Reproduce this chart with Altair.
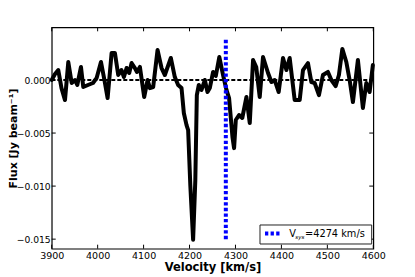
import altair as alt
import pandas as pd

# Spectrum (velocity in km/s, flux in Jy/beam)
velocity = [3900.0, 3907.2, 3914.3, 3921.3, 3928.9, 3936.1, 3943.5, 3950.7, 3955.7, 3963.7,
            3968.7, 3978.9, 3989.8, 3997.8, 4007.2, 4014.8, 4021.7, 4030.4, 4037.6, 4044.8,
            4051.7, 4057.2, 4063.0, 4068.7, 4073.9, 4081.1, 4085.4, 4092.0, 4101.3, 4108.7,
            4113.7, 4120.9, 4130.4, 4139.1, 4146.3, 4159.3, 4168.0, 4175.2, 4182.6, 4187.6,
            4193.5, 4197.0, 4201.7, 4207.8, 4212.6, 4215.9, 4220.2, 4226.1, 4233.3, 4239.1,
            4244.1, 4251.3, 4257.2, 4264.8, 4273.0, 4280.4, 4286.1, 4293.5, 4297.0, 4300.7,
            4307.8, 4314.8, 4323.9, 4331.1, 4338.3, 4345.2, 4352.8, 4360.0, 4370.9, 4378.3,
            4385.4, 4394.1, 4403.5, 4410.9, 4418.0, 4428.9, 4439.8, 4447.0, 4457.8, 4465.2,
            4472.4, 4481.7, 4490.4, 4501.3, 4508.7, 4518.0, 4525.2, 4532.6, 4541.3, 4548.5,
            4555.7, 4566.5, 4577.4, 4584.8, 4592.0, 4599.1]
flux = [0.0, 0.00057, 0.00094, -0.00076, -0.00189, 0.0017, -0.00028, 0.0, -0.00047, 0.00123,
        -0.00066, -0.00047, -0.00028, 0.00019, 0.0017, 0.0, -0.0017, 0.00255, 0.00255, 0.00047,
        0.00094, 0.00028, 0.00113, 0.00066, 0.0016, 0.00113, 0.00076, 0.00123, -0.0016, 0.0,
        -0.00076, -0.00066, 0.00283, 0.00113, 0.00047, 0.00208, 0.00028, -0.00047, -0.00076, -0.00311,
        -0.00425, -0.00472, -0.00991, -0.01505, -0.00943, -0.00142, -0.00047, -0.00094, 0.0, -0.00113,
        -0.00076, 0.00076, 0.00038, 0.00217, 0.00047, -0.00094, -0.0017, -0.00538, -0.00642, -0.00377,
        -0.0033, -0.00358, -0.0016, -0.00406, 0.00189, 0.00123, -0.0016, 0.00217, 0.00066, -0.00019,
        0.0, -0.00113, 0.00208, 0.00094, 0.00208, -0.00189, -0.00189, 0.00094, 0.0016, -0.00019,
        -0.00028, -0.00142, 0.00047, 0.00076, 0.0, -0.00057, 0.00047, 0.00293, 0.0017, 0.0,
        -0.00208, 0.00189, -0.00264, -0.00028, -0.00113, 0.00142]

vsys_x = [4279]
vsys_y = [-0.0150]
vsys_y2 = [0.0040]

x_ticks = [3900, 4000, 4100, 4200, 4300, 4400, 4500, 4600]
y_ticks = [0.0, -0.005, -0.010, -0.015]

x_domain = [3900, 4600]
y_domain = [-0.0159, 0.00497]

W, H = 321.6, 221.4
FONT = "DejaVu Sans"

spec = pd.DataFrame({"v": velocity, "f": flux})
vsys = pd.DataFrame({"v": vsys_x, "y1": vsys_y, "y2": vsys_y2})
zero = pd.DataFrame({"f": [0.0]})
xt = pd.DataFrame({"v": x_ticks})
yt = pd.DataFrame({"f": y_ticks})

xscale = alt.Scale(domain=x_domain, nice=False, zero=False)
yscale = alt.Scale(domain=y_domain, nice=False, zero=False)

xaxis = alt.Axis(values=x_ticks, format="d", ticks=False, domain=False, grid=False,
                 labelFont=FONT, labelFontSize=9.5, labelColor="black", labelPadding=2,
                 title="Velocity [km/s]", titleFont=FONT, titleFontSize=11.5,
                 titleFontWeight="bold", titleColor="black",
                 titleX=W / 2, titleY=21.8, titleAlign="center", titleBaseline="alphabetic",
                 labelFlush=False)
yaxis = alt.Axis(values=y_ticks, format=".3f", ticks=False, domain=False, grid=False,
                 labelFont=FONT, labelFontSize=9.2, labelColor="black", labelPadding=1.5,
                 title="Flux [Jy beam⁻¹]", titleFont=FONT, titleFontSize=11,
                 titleFontWeight="bold", titleColor="black",
                 titleX=-38.0, titleY=H / 2, titleAngle=270, titleAlign="center",
                 titleBaseline="middle",
                 labelFlush=False)

line = alt.Chart(spec).mark_line(color="black", strokeWidth=4, strokeJoin="round",
                                 strokeCap="round").encode(
    x=alt.X("v:Q", scale=xscale, axis=xaxis),
    y=alt.Y("f:Q", scale=yscale, axis=yaxis),
    order="v:Q",
)

zline = alt.Chart(zero).mark_rule(color="black", strokeWidth=2, strokeDash=[4, 2]).encode(
    y=alt.Y("f:Q", scale=yscale)
)

vline = alt.Chart(vsys).mark_rule(color="#0000ff", strokeWidth=4, strokeDash=[3.3, 2.3]).encode(
    x=alt.X("v:Q", scale=xscale),
    y=alt.Y("y1:Q", scale=yscale),
    y2="y2:Q",
)

tick_style = dict(color="black", strokeWidth=1)
top_ticks = alt.Chart(xt).mark_rule(**tick_style).encode(
    x=alt.X("v:Q", scale=xscale), y=alt.value(0), y2=alt.value(4))
bot_ticks = alt.Chart(xt).mark_rule(**tick_style).encode(
    x=alt.X("v:Q", scale=xscale), y=alt.value(H), y2=alt.value(H - 4))
left_ticks = alt.Chart(yt).mark_rule(**tick_style).encode(
    y=alt.Y("f:Q", scale=yscale), x=alt.value(0), x2=alt.value(4))
right_ticks = alt.Chart(yt).mark_rule(**tick_style).encode(
    y=alt.Y("f:Q", scale=yscale), x=alt.value(W - 4), x2=alt.value(W))

# legend
leg_df = pd.DataFrame({"k": [0]})
leg_box = alt.Chart(leg_df).mark_rect(fill="white", stroke="#222222", strokeWidth=1).encode(
    x=alt.value(208.3), x2=alt.value(320), y=alt.value(197.7), y2=alt.value(216.7))
leg_line = alt.Chart(leg_df).mark_rule(color="#0000ff", strokeWidth=4, strokeDash=[3.3, 2.3]).encode(
    x=alt.value(213.3), x2=alt.value(229), y=alt.value(206.2))
leg_v = alt.Chart(leg_df).mark_text(text="V", font=FONT, fontSize=9.8, align="left",
                                    baseline="alphabetic", color="black").encode(
    x=alt.value(237.6), y=alt.value(209.8))
leg_sub = alt.Chart(leg_df).mark_text(text="sys", font=FONT, fontSize=5.5, fontStyle="italic",
                                      align="left", baseline="alphabetic", color="black").encode(
    x=alt.value(243.6), y=alt.value(211.3))
leg_rest = alt.Chart(leg_df).mark_text(text="=4274 km/s", font=FONT, fontSize=9.8, align="left",
                                       baseline="alphabetic", color="black").encode(
    x=alt.value(253.3), y=alt.value(209.8))

chart = alt.layer(
    line, zline, vline, top_ticks, bot_ticks, left_ticks, right_ticks,
    leg_box, leg_line, leg_v, leg_sub, leg_rest
).properties(
    width=W, height=H,
    autosize=alt.AutoSizeParams(type="none"),
    padding={"left": 43.7, "top": 19.3, "right": 33.7, "bottom": 27},
    background="white",
).configure_view(stroke="black", strokeWidth=1.2)

chart.save("out.html", embed_options={"renderer": "svg", "actions": False})
